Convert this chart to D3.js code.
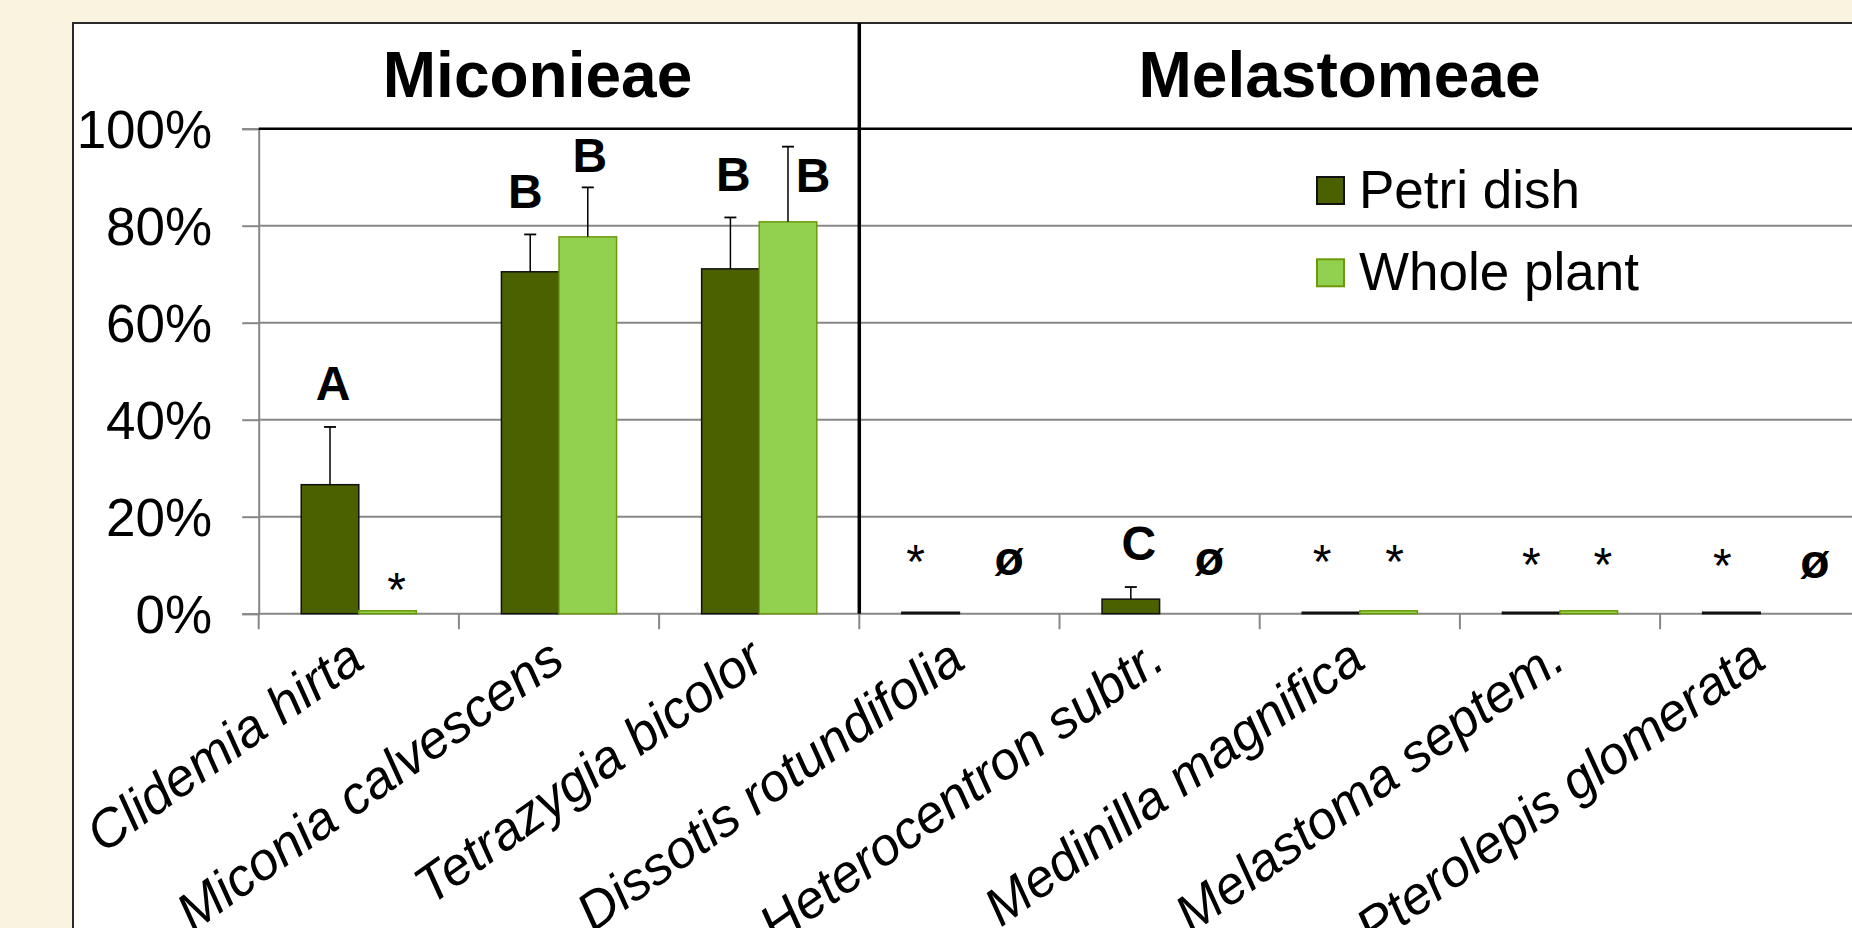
<!DOCTYPE html>
<html>
<head>
<meta charset="utf-8">
<script src="https://cdn.jsdelivr.net/npm/d3@7"></script>
<style>
  html, body { margin: 0; padding: 0; background: #FAF3E0; }
  svg { display: block; }
  text { font-family: "Liberation Sans", Arial, sans-serif; }
</style>
</head>
<body>
<svg id="chart" width="1852" height="928"></svg>
<script>
// ---------- data ----------
const categories = ["Clidemia hirta", "Miconia calvescens", "Tetrazygia bicolor",
  "Dissotis rotundifolia", "Heterocentron subtr.", "Medinilla magnifica",
  "Melastoma septem.", "Pterolepis glomerata"];
const series = ["Petri dish", "Whole plant"];
const petriValues = [0.266, 0.705, 0.711, 0.003, 0.030, 0.003, 0.003, 0.003];
const petriErrors = [0.119, 0.077, 0.106, 0, 0.025, 0, 0, 0];
const wholeValues = [0.006, 0.777, 0.808, null, null, 0.006, 0.006, null];
const wholeErrors = [0, 0.102, 0.155, 0, 0, 0, 0, 0];
const yTicks = [0, 0.2, 0.4, 0.6, 0.8, 1.0];
const groups = ["Miconieae", "Melastomeae"];
// significance labels: category index, series, text, baseline value
const sigCats   = [0, 0, 1, 1, 2, 2, 3, 3, 4, 4, 5, 5, 6, 6, 7, 7];
const sigSeries = [0, 1, 0, 1, 0, 1, 0, 1, 0, 1, 0, 1, 0, 1, 0, 1];
const sigText   = ["A", "*", "B", "B", "B", "B", "*", "ø", "C", "ø", "*", "*", "*", "*", "*", "ø"];
const sigAt     = [0.441, 0.015, 0.836, 0.911, 0.872, 0.870, 0.073, 0.080, 0.111, 0.080, 0.073, 0.073, 0.067, 0.067, 0.065, 0.073];
const sigDx     = [3, 9, -5, 2, 3, 25, -15, 21, 8, 21, -9, 6, 0, 14, -9, 26];

// ---------- layout ----------
const svg = d3.select("#chart");
const colors = { "Petri dish": "#4B6100", "Whole plant": "#92D050" };
const strokes = { "Petri dish": "#111111", "Whole plant": "#6E9A0A" };
const gridColor = "#878787";

const y = d3.scaleLinear().domain([0, 1]).range([613.7, 128.7]);
const x0 = d3.scaleBand().domain(categories).range([258.7, 258.7 + 8 * 200.2]).padding(0);
const x1 = d3.scaleBand().domain(series).range([0, x0.bandwidth()]).paddingInner(0).paddingOuter(0.739);

// white chart area
svg.append("rect").attr("x", 73).attr("y", 23).attr("width", 1900).attr("height", 1000)
  .attr("fill", "#fff").attr("stroke", "#2a2a2a").attr("stroke-width", 2);

// gridlines
svg.append("g").selectAll("line").data(yTicks.filter(d => d < 1)).join("line")
  .attr("x1", 258.7).attr("x2", 1860)
  .attr("y1", d => y(d)).attr("y2", d => y(d))
  .attr("stroke", gridColor).attr("stroke-width", 2);

// y axis
const yAxis = svg.append("g").attr("transform", "translate(258.7,0)")
  .call(d3.axisLeft(y).tickValues(yTicks).tickFormat(d3.format(".0%")).tickSize(16.5).tickPadding(30));
yAxis.select(".domain").attr("stroke", gridColor).attr("stroke-width", 2);
yAxis.selectAll(".tick line").attr("stroke", gridColor).attr("stroke-width", 2);
yAxis.selectAll(".tick text").attr("font-size", 53).attr("fill", "#000")
  .attr("font-family", "'Liberation Sans', Arial, sans-serif").attr("dy", "0.36em");

// header line at 100%
svg.append("line").attr("x1", 258.7).attr("x2", 1860).attr("y1", y(1)).attr("y2", y(1))
  .attr("stroke", "#000").attr("stroke-width", 2.5);

// x axis ticks (category boundaries)
const bounds = categories.map(c => x0(c)).concat([x0.range()[1]]);
svg.append("g").selectAll("line").data(bounds).join("line")
  .attr("x1", d => d).attr("x2", d => d)
  .attr("y1", y(0)).attr("y2", y(0) + 15.5)
  .attr("stroke", gridColor).attr("stroke-width", 2);

// bars
const rows = categories.map((c, i) => ({
  cat: c,
  vals: [
    { s: series[0], v: petriValues[i], e: petriErrors[i] },
    { s: series[1], v: wholeValues[i], e: wholeErrors[i] }
  ]
}));
const barG = svg.append("g");
rows.forEach(r => {
  r.vals.filter(d => d.v !== null).forEach(d => {
    const bx = x0(r.cat) + x1(d.s);
    barG.append("rect")
      .attr("x", bx).attr("width", x1.bandwidth())
      .attr("y", y(d.v)).attr("height", y(0) - y(d.v))
      .attr("fill", colors[d.s]).attr("stroke", strokes[d.s]).attr("stroke-width", 1.5);
    if (d.e > 0) {
      const cx = bx + x1.bandwidth() / 2;
      barG.append("line").attr("x1", cx).attr("x2", cx)
        .attr("y1", y(d.v)).attr("y2", y(d.v + d.e))
        .attr("stroke", "#000").attr("stroke-width", 1.5);
      barG.append("line").attr("x1", cx - 6).attr("x2", cx + 6)
        .attr("y1", y(d.v + d.e)).attr("y2", y(d.v + d.e))
        .attr("stroke", "#000").attr("stroke-width", 1.8);
    }
  });
});

// vertical group separator
const sepX = x0(categories[3]);
svg.append("line").attr("x1", sepX).attr("x2", sepX).attr("y1", 23).attr("y2", y(0))
  .attr("stroke", "#000").attr("stroke-width", 3.5);

// significance labels
svg.append("g").selectAll("text").data(sigText).join("text")
  .attr("x", (t, i) => x0(categories[sigCats[i]]) + x1(series[sigSeries[i]]) + x1.bandwidth() / 2 + sigDx[i])
  .attr("y", (t, i) => y(sigAt[i]))
  .attr("text-anchor", "middle")
  .attr("font-size", 48)
  .attr("font-weight", t => t === "*" ? "normal" : "bold")
  .attr("fill", "#000")
  .text(t => t);

// category labels
svg.append("g").selectAll("text").data(categories).join("text")
  .attr("transform", c => `translate(${x0(c) + x0.bandwidth() / 2 + 8},666) rotate(-35.5)`)
  .attr("text-anchor", "end")
  .attr("font-size", 53)
  .attr("font-style", "italic")
  .attr("fill", "#000")
  .text(c => c);

// group titles
const groupCenters = [537.5, 1339.5];
svg.append("g").selectAll("text").data(groups).join("text")
  .attr("x", (g, i) => groupCenters[i]).attr("y", 96.7)
  .attr("text-anchor", "middle").attr("font-size", 64).attr("font-weight", "bold")
  .attr("fill", "#000").text(g => g);

// legend
const leg = svg.append("g").attr("transform", "translate(1317,177)");
series.forEach((s, i) => {
  const g = leg.append("g").attr("transform", `translate(0,${i * 82.3})`);
  g.append("rect").attr("width", 27).attr("height", 27)
    .attr("fill", colors[s]).attr("stroke", strokes[s]).attr("stroke-width", 2);
  g.append("text").attr("x", 42).attr("y", 31).attr("font-size", 53).attr("fill", "#000").text(s);
});
</script>
</body>
</html>
